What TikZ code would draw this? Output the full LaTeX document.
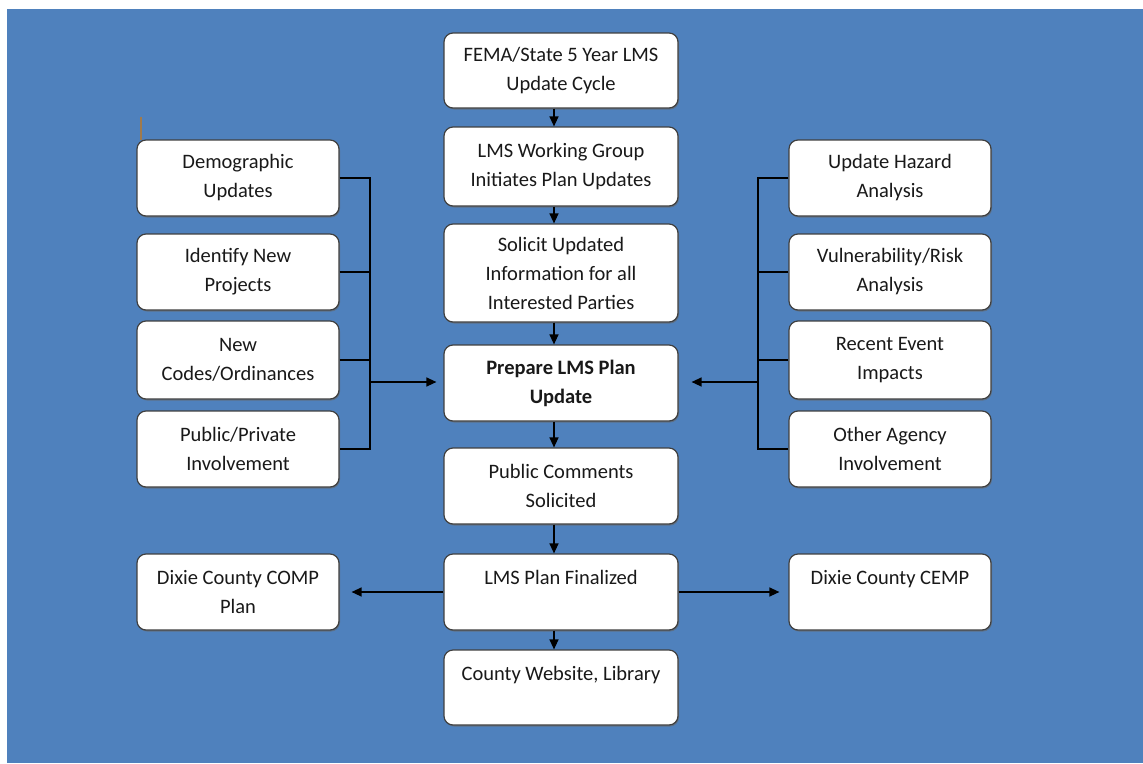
\documentclass[tikz,border=0pt]{standalone}
\usepackage{fontspec}
\setmainfont{Carlito}
\usetikzlibrary{arrows.meta,shadows}
\definecolor{bgblue}{HTML}{4F81BD}
\definecolor{stray}{HTML}{A07A4C}
\begin{document}
\begin{tikzpicture}[x=1pt,y=-1pt,
  box/.style={draw=black!75, line width=1.2pt, fill=white, rounded corners=9pt,
    align=center, inner sep=0pt, text=black!90,
    font={\fontsize{20.5}{29}\selectfont},
    drop shadow={shadow xshift=1pt, shadow yshift=-1.5pt, fill=black!60, opacity=0.6}},
  cbox/.style={box, minimum width=234pt},
  sbox/.style={box, minimum width=202pt},
  conn/.style={line width=1.3pt, black},
  arr/.style={conn, -{Triangle[length=10pt,width=9pt]}}]
\useasboundingbox (0,0) rectangle (1143,763);
\fill[white] (0,0) rectangle (1143,763);
\fill[bgblue] (7,9) rectangle (1143,763);
\draw[stray, line width=1.6pt] (141,117) -- (141,140);

% centre column
\node[cbox, minimum height=75pt] (fema) at (561,70.5) {FEMA/State 5 Year LMS\\Update Cycle};
\node[cbox, minimum height=79pt] (wg) at (561,166.5) {LMS Working Group\\Initiates Plan Updates};
\node[cbox, minimum height=98pt] (sol) at (561,273) {Solicit Updated\\Information for all\\Interested Parties};
\node[cbox, minimum height=76pt, font={\fontsize{20.5}{29}\selectfont\bfseries}] (prep) at (561,383) {Prepare LMS Plan\\Update};
\node[cbox, minimum height=76pt] (pc) at (561,486) {Public Comments\\Solicited};
\node[cbox, minimum height=76pt] (fin) at (561,592) {LMS Plan Finalized\\\mbox{}};
\node[cbox, minimum height=75pt] (web) at (561,687.5) {County Website, Library\\\mbox{}};

% left column
\node[sbox, minimum height=76pt] (demo) at (238,178) {Demographic\\Updates};
\node[sbox, minimum height=76pt] (proj) at (238,272) {Identify New\\Projects};
\node[sbox, minimum height=78pt] (codes) at (238,360) {New\\Codes/Ordinances};
\node[sbox, minimum height=76pt] (pub) at (238,449) {Public/Private\\Involvement};
\node[sbox, minimum height=76pt] (comp) at (238,592) {Dixie County COMP\\Plan};

% right column
\node[sbox, minimum height=76pt] (haz) at (890,178) {Update Hazard\\Analysis};
\node[sbox, minimum height=76pt] (vul) at (890,272) {Vulnerability/Risk\\Analysis};
\node[sbox, minimum height=78pt] (rec) at (890,360) {Recent Event\\Impacts};
\node[sbox, minimum height=76pt] (oth) at (890,449) {Other Agency\\Involvement};
\node[sbox, minimum height=76pt] (cemp) at (890,592) {Dixie County CEMP\\\mbox{}};

% vertical flow
\foreach \a/\b in {fema/wg, wg/sol, sol/prep, prep/pc, pc/fin, fin/web}
  \draw[arr] ([xshift=-7pt]\a.south) -- ([xshift=-7pt]\b.north);

% left bracket
\coordinate (lb) at (370,382);
\draw[conn] (demo.east) -- (demo.east -| lb) -- (pub.east -| lb) -- (pub.east);
\draw[conn] (proj.east) -- (proj.east -| lb);
\draw[conn] (codes.east) -- (codes.east -| lb);
\draw[arr, shorten >=7pt] (lb) -- (lb -| prep.west);

% right bracket
\coordinate (rb) at (758,382);
\draw[conn] (haz.west) -- (haz.west -| rb) -- (oth.west -| rb) -- (oth.west);
\draw[conn] (vul.west) -- (vul.west -| rb);
\draw[conn] (rec.west) -- (rec.west -| rb);
\draw[arr, shorten >=13pt] (rb) -- (rb -| prep.east);

% outputs
\draw[arr, shorten >=12pt] (fin.west) -- (comp.east);
\draw[arr, shorten >=9pt] (fin.east) -- (cemp.west);
\end{tikzpicture}
\end{document}
